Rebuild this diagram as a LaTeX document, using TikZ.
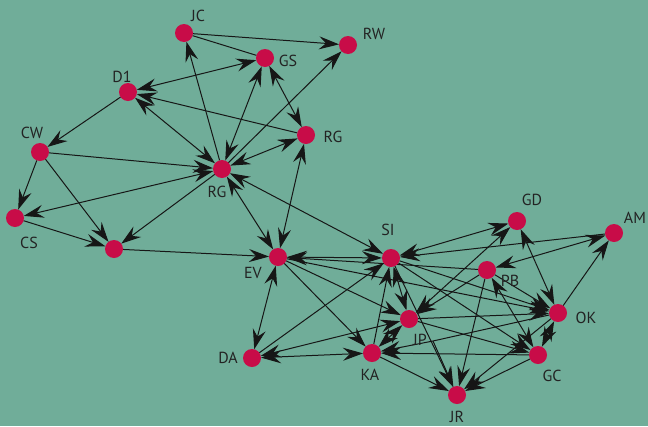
\documentclass[tikz,border=0pt]{standalone}
\usepackage{fontspec}
\setmainfont{PT Sans}
\usetikzlibrary{arrows.meta}
\definecolor{bgc}{RGB}{112,173,153}
\definecolor{nodec}{RGB}{200,12,72}
\definecolor{txt}{RGB}{35,35,35}
\definecolor{edgec}{RGB}{22,22,22}
\pgfdeclarelayer{back}\pgfdeclarelayer{edges}\pgfsetlayers{back,edges,main}
\tikzset{
 v/.style={circle,fill=nodec,minimum size=18pt,inner sep=0pt,outer sep=0pt},
 lab/.style={text=txt,font=\fontsize{16}{16}\selectfont,inner sep=0pt},
 tip/.tip={Stealth[length=20pt,width=13pt,inset=7pt]},
 ln/.style={draw=edgec,line width=1pt},
 e/.style={ln,-tip},
 ee/.style={ln,tip-tip},
}
\begin{document}
\begin{tikzpicture}[x=1pt,y=-1pt]
\begin{pgfonlayer}{back}
\fill[bgc] (0,0) rectangle (648,426);
\end{pgfonlayer}
\useasboundingbox (0,0) rectangle (648,426);
% nodes
\node[v] (JC) at (184,33) {};
\node[v] (GS) at (265,58) {};
\node[v] (RW) at (348,45) {};
\node[v] (D1) at (128,92) {};
\node[v] (CW) at (40,152) {};
\node[v] (RGt) at (306,135) {};
\node[v] (RGc) at (222,169) {};
\node[v] (CS) at (15,218) {};
\node[v] (U) at (114,249) {};
\node[v] (EV) at (278,257) {};
\node[v] (SI) at (391,258) {};
\node[v] (GD) at (517,221) {};
\node[v] (AM) at (614,233) {};
\node[v] (PB) at (487,270) {};
\node[v] (OK) at (558,313) {};
\node[v] (JP) at (409,319) {};
\node[v] (DA) at (252,358) {};
\node[v] (KA) at (372,353) {};
\node[v] (GC) at (538,355) {};
\node[v] (JR) at (457,395) {};
% labels
\node[lab] (lJC) at (198,16) {JC};
\node[lab] (lGS) at (288,61) {GS};
\node[lab] (lRW) at (374,34) {RW};
\node[lab] (lD1) at (122,77) {D1};
\node[lab] (lCW) at (32,133) {CW};
\node[lab] (lRGt) at (333,137) {RG};
\node[lab] (lRGc) at (217,192) {RG};
\node[lab] (lCS) at (29,243) {CS};
\node[lab] (lEV) at (253,273) {EV};
\node[lab] (lSI) at (388,230) {SI};
\node[lab] (lGD) at (532,200) {GD};
\node[lab] (lAM) at (635,218) {AM};
\node[lab] (lPB) at (510,281) {PB};
\node[lab] (lOK) at (586,318) {OK};
\node[lab] (lJP) at (420,340) {JP};
\node[lab] (lDA) at (228,358) {DA};
\node[lab] (lKA) at (370,375) {KA};
\node[lab] (lGC) at (552,376) {GC};
\node[lab] (lJR) at (457,417) {JR};
\coordinate (bend) at (433,341);
\begin{pgfonlayer}{edges}
\draw[e] (JC) -- (RW);
\draw[ln] (JC) -- (GS);
\draw[ee] (D1) -- (GS);
\draw[e] (RGc) -- (JC);
\draw[ee] (GS) -- (RGc);
\draw[ee] (GS) -- (RGt);
\draw[e] (RGc) -- (RW);
\draw[e] (RGt) -- (D1);
\draw[ee] (D1) -- (RGc);
\draw[e] (D1) -- (CW);
\draw[e] (CW) -- (RGc);
\draw[e] (CW) -- (CS);
\draw[e] (CW) -- (U);
\draw[ee] (RGc) -- (CS);
\draw[e] (RGc) -- (U);
\draw[e] (CS) -- (U);
\draw[e] (U) -- (EV);
\draw[ee] (RGc) -- (RGt);
\draw[ee] (RGc) -- (EV);
\draw[ee] (RGt) -- (EV);
\draw[ee] (RGc) -- (SI);
\draw[ee] (EV) -- (SI);
\draw[e] (PB) -- (EV);
\draw[ee] (EV) -- (DA);
\draw[e] (EV) -- (KA);
\draw[e] (EV) -- (JP);
\draw[e] (EV) -- (OK);
\draw[e] (DA) -- (SI);
\draw[ee] (DA) -- (KA);
\draw[ee] (DA) -- (JP);
\draw[e] (KA) -- (SI);
\draw[ee] (JP) -- (SI);
\draw[ee] (JP) -- (KA);
\draw[e] (GC) -- (KA);
\draw[e] (KA) -- (JR);
\draw[ee] (SI) -- (GD);
\draw[e] (AM) -- (SI);
\draw[e] (SI) -- (OK);
\draw[e] (SI) -- (GC);
\draw[e] (SI) -- (JR);
\draw[ee] (GD) -- (JP);
\draw[e] (PB) -- (JP);
\draw[ee] (PB) -- (AM);
\draw[e] (PB) -- (JR);
\draw[e] (PB) -- (OK);
\draw[ee] (GC) -- (PB);
\draw[ee] (GD) -- (OK);
\draw[e] (OK) -- (AM);
\draw[ee] (OK) -- (GC);
\draw[e] (OK) -- (JR);
\draw[e] (GC) -- (JR);
\draw[e] (JP) -- (OK);
\draw[e] (JP) -- (GC);
\draw[ln] (OK) -- (bend);
\draw[e] (bend) -- (KA);
\draw[e] (bend) -- (JR);
\end{pgfonlayer}
\end{tikzpicture}
\end{document}
